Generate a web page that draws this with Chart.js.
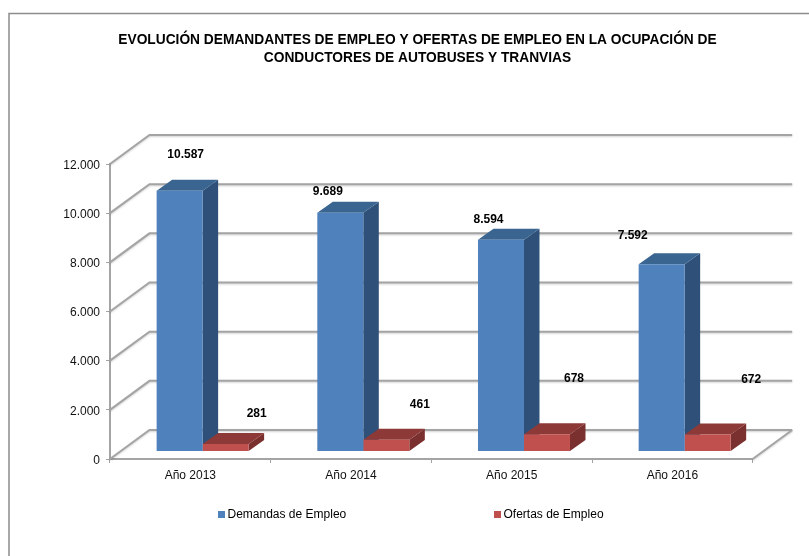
<!DOCTYPE html>
<html>
<head>
<meta charset="utf-8">
<style>
  html, body { margin: 0; padding: 0; background: #fff; }
  canvas { display: block; }
</style>
<script src="https://cdn.jsdelivr.net/npm/chart.js@4/dist/chart.umd.min.js"></script>
</head>
<body>
<canvas id="chart" width="809" height="556"></canvas>
<script>
const categories = ['Año 2013', 'Año 2014', 'Año 2015', 'Año 2016'];
const demandas = [10587, 9689, 8594, 7592];
const ofertas = [281, 461, 678, 672];
const seriesNames = ['Demandas de Empleo', 'Ofertas de Empleo'];
const titleLines = [
    'EVOLUCIÓN DEMANDANTES DE EMPLEO Y OFERTAS DE EMPLEO EN LA OCUPACIÓN DE',
    'CONDUCTORES DE AUTOBUSES Y TRANVIAS'
];

// hand-placed data labels in the original, offsets from the top of each bar
const labelNudge = [
    [[6, -36], [-12.5, -21.5], [-12.5, -20.5], [-29, -29]],
    [[31, -30.5], [33.5, -34.5], [27, -55.5], [43.5, -55]]
];

const FONT = '"Liberation Sans", Arial, sans-serif';
const GRID = '#a4a4a4';
const DEPTH_X = 39.5, DEPTH_Y = 29;    // floor depth
const BAR_DX = 15.5, BAR_DY = 11;      // bar depth
const BAR_SHIFT = 12.3;
const faces = [
    { front: '#4f81bd', top: '#3a6591', side: '#2f5179' },
    { front: '#c0504d', top: '#8c3937', side: '#7a302e' }
];

function fmt(v) {
    return String(v).replace(/\B(?=(\d{3})+$)/g, '.');
}

function poly(ctx, pts, color) {
    ctx.fillStyle = color;
    ctx.beginPath();
    pts.forEach((p, i) => i ? ctx.lineTo(p[0], p[1]) : ctx.moveTo(p[0], p[1]));
    ctx.closePath();
    ctx.fill();
}

const depthPlugin = {
    id: 'depth',
    beforeDatasetsDraw(chart) {
        const ctx = chart.ctx;
        const area = chart.chartArea;
        const y = chart.scales.y;

        // frame only shows on top and left, the rest is cropped off
        ctx.save();
        ctx.strokeStyle = '#8c8c8c';
        ctx.lineWidth = 1.5;
        ctx.beginPath();
        ctx.moveTo(9, 556);
        ctx.lineTo(9, 13.5);
        ctx.lineTo(809, 13.5);
        ctx.stroke();

        // slanted grid and back wall lines
        ctx.strokeStyle = GRID;
        ctx.lineWidth = 2;
        ctx.shadowColor = 'rgba(0,0,0,0.18)';
        ctx.shadowBlur = 2;
        ctx.shadowOffsetY = 1;
        y.ticks.forEach(t => {
            const py = y.getPixelForValue(t.value);
            ctx.beginPath();
            ctx.moveTo(area.left, py);
            ctx.lineTo(area.left + DEPTH_X, py - DEPTH_Y);
            ctx.lineTo(area.right + DEPTH_X, py - DEPTH_Y);
            ctx.stroke();
        });
        ctx.beginPath();
        ctx.moveTo(area.right, area.bottom);
        ctx.lineTo(area.right + DEPTH_X, area.bottom - DEPTH_Y);
        ctx.stroke();
        ctx.restore();

        // bars are set back from the front edge of the floor
        ctx.save();
        ctx.translate(BAR_SHIFT, 0);
        categories.forEach((c, i) => {
            faces.forEach((f, k) => {
                const bar = chart.getDatasetMeta(k).data[i];
                const l = bar.x - bar.width / 2, r = bar.x + bar.width / 2;
                poly(ctx, [[r, bar.y], [r + BAR_DX, bar.y - BAR_DY], [r + BAR_DX, bar.base - BAR_DY], [r, bar.base]], f.side);
                poly(ctx, [[l, bar.y], [l + BAR_DX, bar.y - BAR_DY], [r + BAR_DX, bar.y - BAR_DY], [r, bar.y]], f.top);
            });
        });
    },
    afterDatasetsDraw(chart) {
        const ctx = chart.ctx;
        const y = chart.scales.y;
        ctx.restore();

        // data labels
        ctx.save();
        ctx.fillStyle = '#000';
        ctx.font = 'bold 12px ' + FONT;
        ctx.textAlign = 'center';
        ctx.textBaseline = 'middle';
        chart.data.datasets.forEach((ds, k) => {
            const meta = chart.getDatasetMeta(k);
            ds.data.forEach((v, i) => {
                const bar = meta.data[i];
                const n = labelNudge[k][i];
                ctx.fillText(fmt(v), bar.x + BAR_SHIFT + n[0], bar.y + n[1]);
            });
        });

        // title
        ctx.font = 'bold 13.75px ' + FONT;
        titleLines.forEach((t, i) => ctx.fillText(t, 417.5, 40.5 + i * 18));

        // y tick labels sit a bit under their tick in the original
        ctx.font = '12px ' + FONT;
        ctx.fillStyle = '#111';
        ctx.textAlign = 'right';
        y.ticks.forEach(t => ctx.fillText(fmt(t.value), 100, y.getPixelForValue(t.value) + 1.5));

        // legend
        ctx.textAlign = 'left';
        [218, 494].forEach((x, k) => {
            ctx.fillStyle = faces[k].front;
            ctx.fillRect(x, 511, 7, 7);
            ctx.fillStyle = '#000';
            ctx.fillText(seriesNames[k], x + 9.5, 515);
        });
        ctx.restore();
    }
};

new Chart(document.getElementById('chart'), {
    type: 'bar',
    data: {
        labels: categories,
        datasets: [
            { label: seriesNames[0], data: demandas, backgroundColor: faces[0].front, yAxisID: 'y2' },
            { label: seriesNames[1], data: ofertas, backgroundColor: faces[1].front, yAxisID: 'y2' }
        ]
    },
    options: {
        responsive: false,
        animation: false,
        layout: { padding: { top: 164, right: 56.3, bottom: 67, left: 0 } },
        categoryPercentage: 0.5726,
        barPercentage: 1,
        plugins: {
            legend: { display: false },
            title: { display: false },
            tooltip: { enabled: false }
        },
        scales: {
            x: {
                afterFit(scale) { scale.height = 30; },
                border: { color: GRID, width: 2 },
                grid: { drawOnChartArea: false, color: GRID, tickLength: 4 },
                ticks: { color: '#111', font: { family: FONT, size: 12 }, padding: 5, maxRotation: 0 }
            },
            y: {
                min: 0,
                max: 12000,
                afterFit(scale) { scale.width = 110; },
                border: { color: GRID, width: 2 },
                grid: { drawOnChartArea: false, color: GRID, tickLength: 4 },
                ticks: { stepSize: 2000, display: false }
            },
            // bars stand on a floor a little above the axis zero, same px per unit
            y2: { display: false, min: -325, max: 11675 }
        }
    },
    plugins: [depthPlugin]
});
</script>
</body>
</html>
